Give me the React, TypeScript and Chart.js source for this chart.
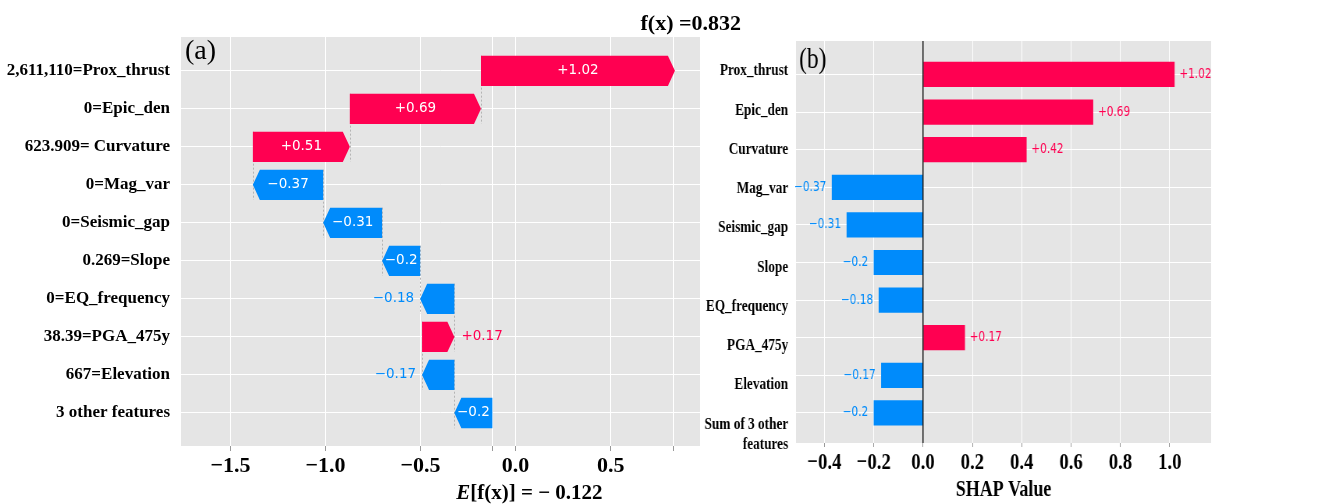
import React, { useEffect, useRef } from 'react';
import { Chart, registerables } from 'chart.js';

Chart.register(...registerables);

// ---------- data ----------
const waterfallLabels = [
  '2,611,110=Prox_thrust',
  '0=Epic_den',
  '623.909= Curvature',
  '0=Mag_var',
  '0=Seismic_gap',
  '0.269=Slope',
  '0=EQ_frequency',
  '38.39=PGA_475y',
  '667=Elevation',
  '3 other features',
];
const waterfallValues = [1.02, 0.69, 0.51, -0.37, -0.31, -0.2, -0.18, 0.17, -0.17, -0.2];
const baseValue = -0.122;
const fxValue = 0.832;
const waterfallTicks = [-1.5, -1.0, -0.5, 0.0, 0.5];

const barLabels = [
  'Prox_thrust',
  'Epic_den',
  'Curvature',
  'Mag_var',
  'Seismic_gap',
  'Slope',
  'EQ_frequency',
  'PGA_475y',
  'Elevation',
  'Sum of 3 other features',
];
const barValues = [1.02, 0.69, 0.42, -0.37, -0.31, -0.2, -0.18, 0.17, -0.17, -0.2];
const shapTicks = [-0.4, -0.2, 0.0, 0.2, 0.4, 0.6, 0.8, 1.0];

// ---------- style ----------
const SERIF = '"Liberation Serif", "Times New Roman", serif';
const SANS = '"DejaVu Sans", sans-serif';
const RED = '#ff0051';
const BLUE = '#008bfb';
const PANEL_BG = '#e5e5e5';
const SQUISH = 643 / 824;
const VALUE_FONT = `13.5px ${SANS}`;

// ---------- derived ----------
const n = waterfallValues.length;
const wfStarts: number[] = new Array(n);
const wfEnds: number[] = new Array(n);
{
  let pos = baseValue;
  for (let i = n - 1; i >= 0; i--) {
    wfStarts[i] = pos;
    wfEnds[i] = pos + waterfallValues[i];
    pos = wfEnds[i];
  }
}

const fmtSigned = (v: number) => (v > 0 ? '+' : '\u2212') + String(Math.abs(v));
const fmtTick = (v: number) => (v < 0 ? '\u2212' : '') + Math.abs(v).toFixed(1);

const bgPlugin = {
  id: 'panelBg',
  beforeDraw(chart: any) {
    const { ctx, chartArea } = chart;
    ctx.save();
    ctx.fillStyle = PANEL_BG;
    ctx.fillRect(chartArea.left, chartArea.top, chartArea.right - chartArea.left, chartArea.bottom - chartArea.top);
    ctx.restore();
  },
};

const waterfallPlugin = {
  id: 'waterfallArrows',
  beforeDatasetsDraw(chart: any) {
    const { ctx } = chart;
    const xs = chart.scales.x;
    const ys = chart.scales.y;
    ctx.save();
    ctx.strokeStyle = '#b4b4b4';
    ctx.lineWidth = 1;
    ctx.setLineDash([2, 2]);
    for (let i = 0; i < n - 1; i++) {
      const x = Math.round(xs.getPixelForValue(wfStarts[i])) + 0.5;
      ctx.beginPath();
      ctx.moveTo(x, ys.getPixelForValue(i - 0.4));
      ctx.lineTo(x, ys.getPixelForValue(i + 1.4));
      ctx.stroke();
    }
    ctx.restore();
  },
  afterDatasetsDraw(chart: any) {
    const { ctx } = chart;
    const meta = chart.getDatasetMeta(0);
    ctx.save();
    meta.data.forEach((el: any, i: number) => {
      const p = el.getProps(['x', 'y', 'base', 'height'], true);
      const left = Math.min(p.x, p.base);
      const right = Math.max(p.x, p.base);
      const top = p.y - p.height / 2;
      const bottom = p.y + p.height / 2;
      const head = Math.min(7, right - left);
      const v = waterfallValues[i];
      const color = v >= 0 ? RED : BLUE;
      ctx.fillStyle = color;
      ctx.beginPath();
      if (v >= 0) {
        ctx.moveTo(left, top);
        ctx.lineTo(right - head, top);
        ctx.lineTo(right, p.y);
        ctx.lineTo(right - head, bottom);
        ctx.lineTo(left, bottom);
      } else {
        ctx.moveTo(right, top);
        ctx.lineTo(left + head, top);
        ctx.lineTo(left, p.y);
        ctx.lineTo(left + head, bottom);
        ctx.lineTo(right, bottom);
      }
      ctx.closePath();
      ctx.fill();

      const txt = fmtSigned(v);
      ctx.font = VALUE_FONT;
      ctx.textBaseline = 'middle';
      const tw = ctx.measureText(txt).width;
      if (tw < right - left - 3) {
        ctx.fillStyle = '#ffffff';
        ctx.textAlign = 'center';
        ctx.fillText(txt, (left + right) / 2, p.y);
      } else if (v >= 0) {
        ctx.fillStyle = color;
        ctx.textAlign = 'left';
        ctx.fillText(txt, right + 7, p.y);
      } else {
        ctx.fillStyle = color;
        ctx.textAlign = 'right';
        ctx.fillText(txt, left - 6, p.y);
      }
    });
    ctx.restore();
  },
  afterDraw(chart: any) {
    const { ctx, chartArea } = chart;
    const xs = chart.scales.x;
    ctx.save();
    ctx.fillStyle = '#000';
    ctx.textBaseline = 'middle';
    // panel tag
    ctx.font = `28px ${SERIF}`;
    ctx.textAlign = 'left';
    ctx.fillText('(a)', chartArea.left + 4, chartArea.top + 15);
    // f(x) title
    ctx.font = `bold 22px ${SERIF}`;
    ctx.textAlign = 'center';
    ctx.fillText(`f(x) =${fxValue}`, xs.getPixelForValue(fxValue) + 17, 24);
    // E[f(x)] axis label
    const part1 = 'E';
    const part2 = `[f(x)] = \u2212 ${Math.abs(baseValue)}`;
    ctx.font = `italic bold 21px ${SERIF}`;
    const w1 = ctx.measureText(part1).width;
    ctx.font = `bold 21px ${SERIF}`;
    const w2 = ctx.measureText(part2).width;
    const cx = xs.getPixelForValue(baseValue) + 37;
    const sx = cx - (w1 + w2) / 2;
    const cy = 494;
    ctx.textAlign = 'left';
    ctx.font = `italic bold 21px ${SERIF}`;
    ctx.fillText(part1, sx, cy);
    ctx.font = `bold 21px ${SERIF}`;
    ctx.fillText(part2, sx + w1, cy);
    ctx.restore();
  },
};

const shapPlugin = {
  id: 'shapBars',
  afterDatasetsDraw(chart: any) {
    const { ctx, chartArea } = chart;
    const xs = chart.scales.x;
    const meta = chart.getDatasetMeta(0);
    ctx.save();
    // zero line
    const x0 = xs.getPixelForValue(0);
    ctx.strokeStyle = '#000';
    ctx.lineWidth = 1.3;
    ctx.beginPath();
    ctx.moveTo(x0, chartArea.top);
    ctx.lineTo(x0, chartArea.bottom);
    ctx.stroke();
    // value labels
    ctx.font = VALUE_FONT;
    ctx.textBaseline = 'middle';
    meta.data.forEach((el: any, i: number) => {
      const p = el.getProps(['x', 'y'], true);
      const v = barValues[i];
      const txt = fmtSigned(v);
      if (v >= 0) {
        ctx.fillStyle = RED;
        ctx.textAlign = 'left';
        ctx.fillText(txt, p.x + 6, p.y);
      } else {
        ctx.fillStyle = BLUE;
        ctx.textAlign = 'right';
        ctx.fillText(txt, p.x - 7, p.y);
      }
    });
    ctx.restore();
  },
  afterDraw(chart: any) {
    const { ctx, chartArea } = chart;
    ctx.save();
    ctx.fillStyle = '#000';
    ctx.font = `30px ${SERIF}`;
    ctx.textAlign = 'left';
    ctx.textBaseline = 'middle';
    ctx.fillText('(b)', chartArea.left + 4, chartArea.top + 19);
    ctx.restore();
  },
};

export default function App() {
  const refA = useRef<HTMLCanvasElement | null>(null);
  const refB = useRef<HTMLCanvasElement | null>(null);

  useEffect(() => {
    if (!refA.current || !refB.current) return;

    const chartA = new Chart(refA.current, {
      type: 'bar',
      data: {
        datasets: [
          {
            data: waterfallValues.map((_, i) => ({ x: [wfStarts[i], wfEnds[i]], y: i })) as any,
            backgroundColor: 'rgba(0,0,0,0)',
            borderWidth: 0,
            barPercentage: 0.8,
            categoryPercentage: 1,
          },
        ],
      },
      options: {
        indexAxis: 'y',
        animation: false,
        responsive: true,
        maintainAspectRatio: false,
        events: [],
        layout: { padding: { top: 37, right: 60, left: 0, bottom: 0 } },
        plugins: { legend: { display: false }, tooltip: { enabled: false } },
        scales: {
          x: {
            type: 'linear',
            min: -1.76,
            max: 0.97,
            offset: false,
            afterBuildTicks: (s: any) => {
              s.ticks = [...waterfallTicks, baseValue, fxValue].sort((a, b) => a - b).map((v) => ({ value: v }));
            },
            afterFit: (s: any) => {
              s.height = 58;
            },
            ticks: {
              autoSkip: false,
              maxRotation: 0,
              padding: 2,
              color: '#000',
              font: { family: SERIF, size: 22, weight: 'bold' },
              callback: (v: any) => (waterfallTicks.includes(v) ? fmtTick(v) : ''),
            },
            grid: { color: '#ffffff', lineWidth: 1, tickColor: '#999999', tickLength: 5, offset: false },
            border: { display: false },
          },
          y: {
            type: 'linear',
            reverse: true,
            min: -0.89,
            max: 9.87,
            offset: false,
            afterBuildTicks: (s: any) => {
              s.ticks = waterfallLabels.map((_, i) => ({ value: i }));
            },
            afterFit: (s: any) => {
              s.width = 181;
            },
            ticks: {
              autoSkip: false,
              padding: 11,
              color: '#000',
              font: { family: SERIF, size: 17, weight: 'bold' },
              callback: (v: any) => waterfallLabels[v],
            },
            grid: { color: '#ffffff', lineWidth: 1, drawTicks: false, offset: false },
            border: { display: false },
          },
        },
      } as any,
      plugins: [bgPlugin, waterfallPlugin],
    });

    const chartB = new Chart(refB.current, {
      type: 'bar',
      data: {
        datasets: [
          {
            data: barValues.map((v, i) => ({ x: v, y: i })) as any,
            backgroundColor: barValues.map((v) => (v >= 0 ? RED : BLUE)),
            borderWidth: 0,
            barPercentage: 0.67,
            categoryPercentage: 1,
            yAxisID: 'y',
          },
        ],
      },
      options: {
        indexAxis: 'y',
        animation: false,
        responsive: true,
        maintainAspectRatio: false,
        events: [],
        layout: { padding: { top: 41, right: 169, left: 0, bottom: 0 } },
        plugins: { legend: { display: false }, tooltip: { enabled: false } },
        scales: {
          x: {
            type: 'linear',
            min: -0.515,
            max: 1.168,
            offset: false,
            afterBuildTicks: (s: any) => {
              s.ticks = shapTicks.map((v) => ({ value: v }));
            },
            afterFit: (s: any) => {
              s.height = 61;
            },
            ticks: {
              autoSkip: false,
              maxRotation: 0,
              padding: 1,
              color: '#000',
              font: { family: SERIF, size: 24, weight: 'bold' },
              callback: (v: any) => fmtTick(v),
            },
            grid: { color: '#ffffff', lineWidth: 1, tickColor: '#999999', tickLength: 4, offset: false },
            border: { display: false },
            title: {
              display: true,
              text: 'SHAP Value',
              color: '#000',
              font: { family: SERIF, size: 23, weight: 'bold' },
              padding: { top: 0, bottom: 0 },
            },
          },
          y: {
            type: 'linear',
            position: 'left',
            reverse: true,
            min: -0.89,
            max: 9.8,
            offset: false,
            afterBuildTicks: (s: any) => {
              s.ticks = barLabels.map((_, i) => ({ value: i }));
            },
            afterFit: (s: any) => {
              s.width = 0;
            },
            ticks: { display: false },
            grid: { color: '#ffffff', lineWidth: 1, drawTicks: false, offset: false },
            border: { display: false },
          },
          yl: {
            type: 'linear',
            position: 'left',
            reverse: true,
            min: -0.764,
            max: 9.478,
            offset: false,
            afterBuildTicks: (s: any) => {
              s.ticks = barLabels.map((_, i) => ({ value: i }));
            },
            afterFit: (s: any) => {
              s.width = 123;
            },
            ticks: {
              autoSkip: false,
              padding: 10,
              color: '#000',
              font: { family: SERIF, size: 17, weight: 'bold' },
              callback: (v: any) => {
                const label = barLabels[v];
                if (label && label.startsWith('Sum of')) {
                  return ['', 'Sum of 3 other', 'features'];
                }
                return label;
              },
            },
            grid: { display: false, drawTicks: false, offset: false },
            border: { display: false },
          },
        },
      } as any,
      plugins: [bgPlugin, shapPlugin],
    });

    return () => {
      chartA.destroy();
      chartB.destroy();
    };
  }, []);

  return (
    <div style={{ position: 'absolute', left: 0, top: 0, width: 1343, height: 504, background: '#fff', overflow: 'hidden' }}>
      <div style={{ position: 'absolute', left: 0, top: 0, width: 760, height: 504 }}>
        <canvas ref={refA} />
      </div>
      <div
        style={{
          position: 'absolute',
          left: 700,
          top: 0,
          width: 824,
          height: 504,
          transform: `scaleX(${SQUISH})`,
          transformOrigin: '0 0',
        }}
      >
        <canvas ref={refB} />
      </div>
    </div>
  );
}
